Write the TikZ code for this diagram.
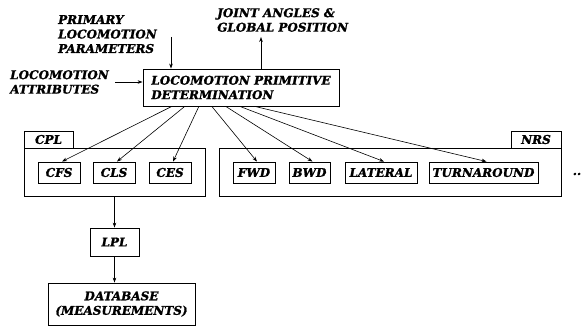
\documentclass[tikz,border=0pt]{standalone}
\usepackage{fontspec}
\setmainfont[BoldItalicFeatures={FakeBold=1.5}]{DejaVu Serif}
\usetikzlibrary{arrows.meta,calc}
\begin{document}
\begin{tikzpicture}[x=1pt,y=-1pt,
  lab/.style={font=\fontsize{12}{14.5}\selectfont\bfseries\itshape},
  txt/.style={lab, inner sep=0, align=left},
  box/.style={lab, draw, line width=0.9pt, inner sep=0, align=center},
  arr/.style={-{Stealth[length=5pt,width=3.6pt]}, line width=0.6pt}]
\useasboundingbox (0,0) rectangle (584,326);

% inputs and outputs of the primitive determination stage
\node[txt, anchor=north west] (prim) at (58,15) {PRIMARY\\LOCOMOTION\\PARAMETERS};
\node[txt, anchor=north west] (joint) at (217,8) {JOINT ANGLES \&\\GLOBAL POSITION};
\node[txt, anchor=north west] (attr) at (10,70) {LOCOMOTION\\ATTRIBUTES};

\node[box, align=left, minimum width=196, minimum height=37] (main) at (241,87.5)
  {LOCOMOTION PRIMITIVE\\DETERMINATION};

\coordinate (pIn) at (171,37);
\coordinate (jOut) at (261,37);
\coordinate (aIn) at (115,82);
\draw[arr] (pIn) -- (pIn |- main.north);
\draw[arr] (jOut |- main.north) -- (jOut);
\draw[arr] (aIn) -- (main.west |- aIn);

% CPL group
\node[box, minimum width=181, minimum height=48] (cpl) at (114.5,172) {};
\node[box, minimum width=49, minimum height=17] (cpltab) at (48.5,139.5) {CPL};
\node[box, minimum width=42, minimum height=21] (cfs) at (59,172.5) {CFS};
\node[box, minimum width=42, minimum height=21] (cls) at (114,172.5) {CLS};
\node[box, minimum width=42, minimum height=21] (ces) at (170,172.5) {CES};

% NRS group
\node[box, minimum width=342, minimum height=48] (nrs) at (390,172) {};
\node[box, minimum width=50, minimum height=17] (nrstab) at (536,139.5) {NRS};
\node[box, minimum width=42, minimum height=21] (fwd) at (254,172.5) {FWD};
\node[box, minimum width=41, minimum height=21] (bwd) at (309.5,172.5) {BWD};
\node[box, minimum width=72, minimum height=21] (lat) at (381,172.5) {LATERAL};
\node[box, minimum width=109, minimum height=21] (turn) at (483.5,172.5) {TURNAROUND};
\node[txt] (more) at (577,174) {..};

% fan-out from the determination box
\foreach \f/\t in {0.148/cfs,0.214/cls,0.286/ces,0.352/fwd,0.423/bwd,0.495/lat,0.571/turn}
  \draw[arr] ($(main.south west)!\f!(main.south east)$) -- ($(\t.north)+(3,0)$);

% storage path
\node[box, minimum width=49, minimum height=28] (lpl) at (114.5,242) {LPL};
\node[box, minimum width=147, minimum height=42] (db) at (121.5,304) {DATABASE\\(MEASUREMENTS)};
\draw[arr] (cpl.south -| lpl) -- (lpl.north);
\draw[arr] (lpl.south) -- (lpl.south |- db.north);
\end{tikzpicture}
\end{document}
